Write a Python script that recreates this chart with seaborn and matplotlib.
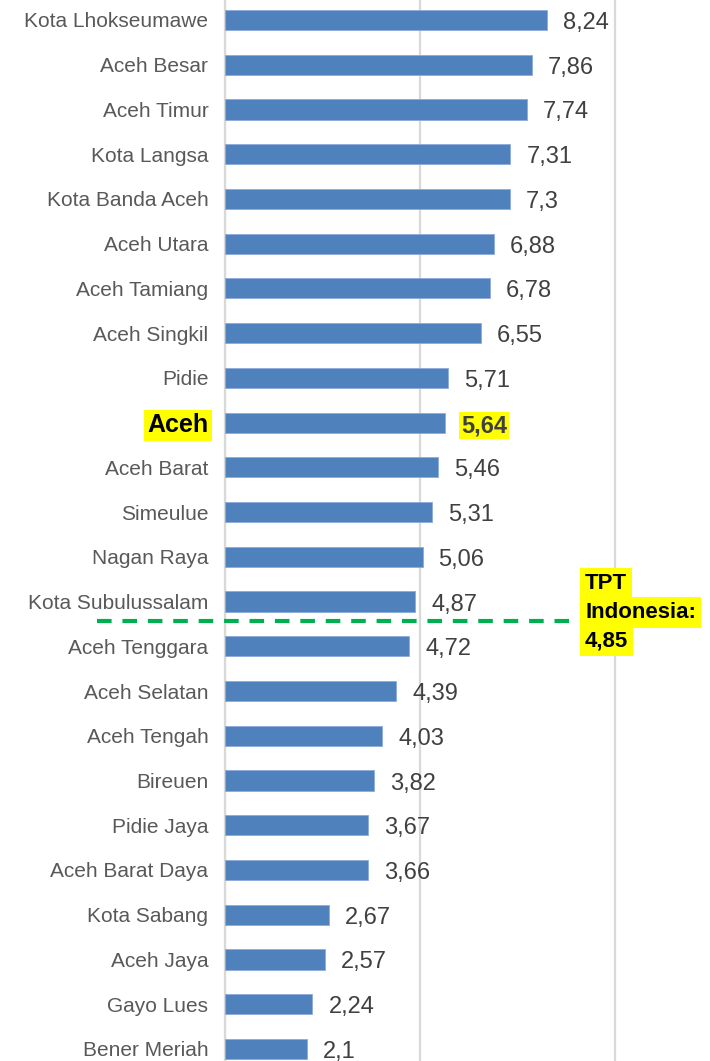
import numpy as np
import pandas as pd
import matplotlib
matplotlib.use("Agg")
import matplotlib.pyplot as plt
import seaborn as sns

# TPT per kabupaten/kota, Aceh
regions = ["Kota Lhokseumawe", "Aceh Besar", "Aceh Timur", "Kota Langsa", "Kota Banda Aceh",
           "Aceh Utara", "Aceh Tamiang", "Aceh Singkil", "Pidie", "Aceh", "Aceh Barat",
           "Simeulue", "Nagan Raya", "Kota Subulussalam", "Aceh Tenggara", "Aceh Selatan",
           "Aceh Tengah", "Bireuen", "Pidie Jaya", "Aceh Barat Daya", "Kota Sabang",
           "Aceh Jaya", "Gayo Lues", "Bener Meriah"]
tpt = [8.24, 7.86, 7.74, 7.31, 7.3, 6.88, 6.78, 6.55, 5.71, 5.64, 5.46, 5.31, 5.06, 4.87,
       4.72, 4.39, 4.03, 3.82, 3.67, 3.66, 2.67, 2.57, 2.24, 2.1]
highlight = "Aceh"
tpt_indonesia = 4.85
ref_lines = ["TPT", "Indonesia:", "4,85"]
xticks = [0, 5, 10]

df = pd.DataFrame({"region": regions, "tpt": tpt})

sns.set_theme(style="white")
plt.rcParams['font.family'] = ['Liberation Sans', 'DejaVu Sans']

fig = plt.figure(figsize=(7.1, 10.61), dpi=100)
ax = fig.add_axes([225 / 710, 0, 1 - 225 / 710, 1])

sns.barplot(data=df, y="region", x="tpt", orient="h", color="#4F81BD", saturation=1,
            width=0.45, edgecolor="#8EAADB", linewidth=0.6, ax=ax, zorder=3)

ax.set_xlim(0, 12.42)
ax.set_ylim(len(regions) - 1 + 0.27, -0.447)
ax.set_xticks(xticks)
ax.set_xticklabels([])
ax.grid(axis="x", color="#D9D9D9", linewidth=1.6, zorder=0)
ax.grid(axis="y", visible=False)
for s in ["top", "right", "bottom"]:
    ax.spines[s].set_visible(False)
ax.spines["left"].set_color("#D9D9D9")
ax.spines["left"].set_linewidth(1.6)
ax.set_xlabel("")
ax.set_ylabel("")
ax.tick_params(axis="y", length=0, pad=12, labelsize=15, labelcolor="#595959")

for lab in ax.get_yticklabels():
    if lab.get_text() == highlight:
        lab.set_fontweight("heavy")
        lab.set_color("black")
        lab.set_fontsize(18)
        lab.set_bbox(dict(facecolor="yellow", edgecolor="none", pad=2.5))

# value labels
for i, v in enumerate(tpt):
    txt = ("%g" % v).replace(".", ",")
    if regions[i] == highlight:
        ax.annotate(txt, (v, i), xytext=(16, -3), textcoords="offset pixels",
                    va="center", ha="left", fontsize=17, fontweight="bold", color="#404040",
                    bbox=dict(facecolor="yellow", edgecolor="none", pad=1.5))
    else:
        ax.annotate(txt, (v, i), xytext=(16, -3), textcoords="offset pixels",
                    va="center", ha="left", fontsize=17, color="#404040")

# national reference line, between the last region above it and the first below
ypos = sum(1 for v in tpt if v > tpt_indonesia) - 0.5 - 0.07
ax.plot([-3.28, 9.17], [ypos, ypos], color="#00B050", linestyle=(0, (3.5, 2.6)),
        linewidth=3, clip_on=False, zorder=4)
for k, line in enumerate(ref_lines):
    ax.annotate(line, (9.17, ypos), xytext=(2, 37 - 28.5 * k), textcoords="offset pixels",
                ha="left", va="center", fontsize=16, fontweight="heavy", color="black",
                bbox=dict(facecolor="yellow", edgecolor="none", pad=3.6), zorder=5)

fig.savefig("out.png", dpi=100)
